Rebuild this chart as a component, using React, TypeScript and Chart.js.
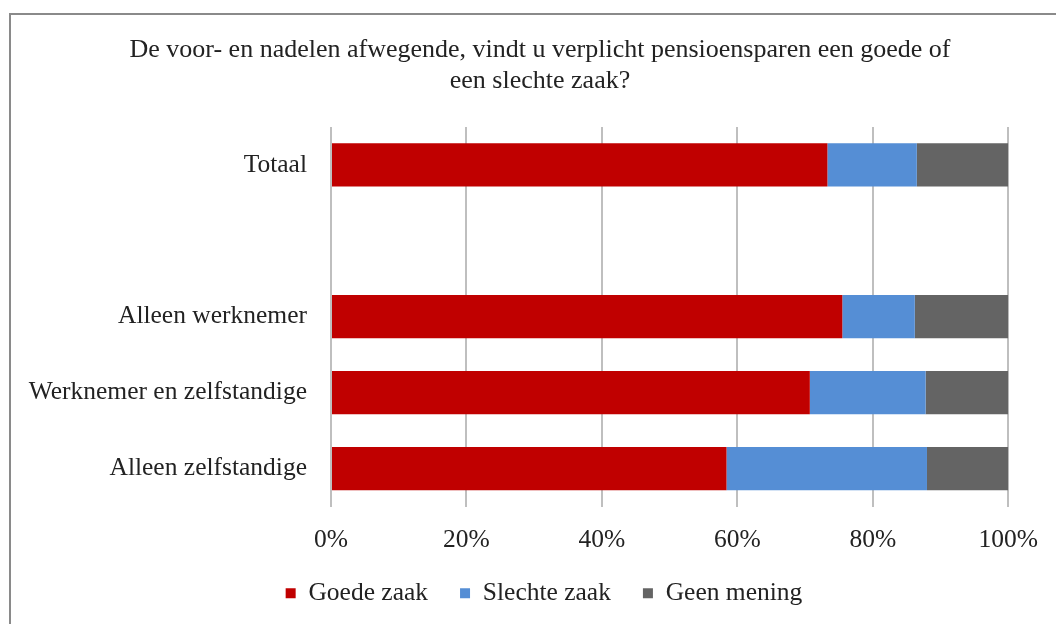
import React, { useEffect, useRef } from "react";
import { Chart, registerables } from "chart.js";

Chart.register(...registerables);

const titleLines = [
  "De voor- en nadelen afwegende, vindt u verplicht pensioensparen een goede of",
  "een slechte zaak?",
];
const categories = ["Totaal", "", "Alleen werknemer", "Werknemer en zelfstandige", "Alleen zelfstandige"];
const goedeZaak = [73.3, null, 75.5, 70.7, 58.4];
const slechteZaak = [13.2, null, 10.7, 17.1, 29.6];
const geenMening = [13.5, null, 13.8, 12.2, 12.0];
const xTicks = [0, 20, 40, 60, 80, 100];

const FONT = "'Liberation Serif', 'DejaVu Serif', serif";
const FS = 25.5;

const shiftBoxes = {
  id: "shiftBoxes",
  afterLayout(chart: any) {
    if (chart.titleBlock) chart.titleBlock.left = 71;
    if (chart.legend) chart.legend.left = 79;
  },
};

export default function App() {
  const ref = useRef<HTMLCanvasElement | null>(null);

  useEffect(() => {
    document.body.style.margin = "0";
    const ctx = ref.current!;
    const chart = new Chart(ctx, {
      type: "bar",
      data: {
        labels: categories,
        datasets: [
          { label: "Goede zaak", data: goedeZaak, backgroundColor: "#C00000" },
          { label: "Slechte zaak", data: slechteZaak, backgroundColor: "#558ED5" },
          { label: "Geen mening", data: geenMening, backgroundColor: "#646464" },
        ],
      },
      options: {
        indexAxis: "y",
        animation: false,
        responsive: false,
        maintainAspectRatio: false,
        layout: { padding: { left: 0, right: 47, top: 0, bottom: 8 } },
        datasets: {
          bar: { categoryPercentage: 1, barPercentage: 0.57 },
        },
        scales: {
          x: {
            stacked: true,
            min: 0,
            max: 100,
            afterBuildTicks: (scale: any) => {
              scale.ticks = xTicks.map((v) => ({ value: v }));
            },
            afterFit: (scale: any) => {
              scale.height = 42;
            },
            grid: { color: "#bfbfbf", lineWidth: 2, drawTicks: false },
            border: { display: false },
            ticks: {
              padding: 18,
              color: "#222",
              font: { family: FONT, size: FS },
              callback: (v: any) => v + "%",
            },
          },
          y: {
            stacked: true,
            afterFit: (scale: any) => {
              scale.width = 331;
            },
            grid: { display: false, drawTicks: false },
            border: { display: false },
            ticks: {
              padding: 24,
              color: "#222",
              font: { family: FONT, size: FS },
            },
          },
        },
        plugins: {
          title: {
            display: true,
            text: titleLines,
            color: "#222",
            font: { family: FONT, size: 26, weight: "normal", lineHeight: 1.19 },
            padding: { top: 35, bottom: 30 },
          },
          legend: {
            position: "bottom",
            labels: {
              color: "#222",
              font: { family: FONT, size: FS },
              boxWidth: 10,
              boxHeight: 10,
              padding: 32,
            },
          },
          tooltip: { enabled: false },
        },
      },
      plugins: [shiftBoxes],
    });
    return () => chart.destroy();
  }, []);

  return (
    <div style={{ position: "relative", width: 1056, height: 624, overflow: "hidden", background: "#fff" }}>
      <div
        style={{
          position: "absolute",
          left: 9,
          top: 13,
          width: 1100,
          height: 700,
          border: "2px solid #8a8a8a",
          boxSizing: "border-box",
        }}
      />
      <canvas ref={ref} width={1056} height={624} style={{ position: "absolute", left: 0, top: 0 }} />
    </div>
  );
}
